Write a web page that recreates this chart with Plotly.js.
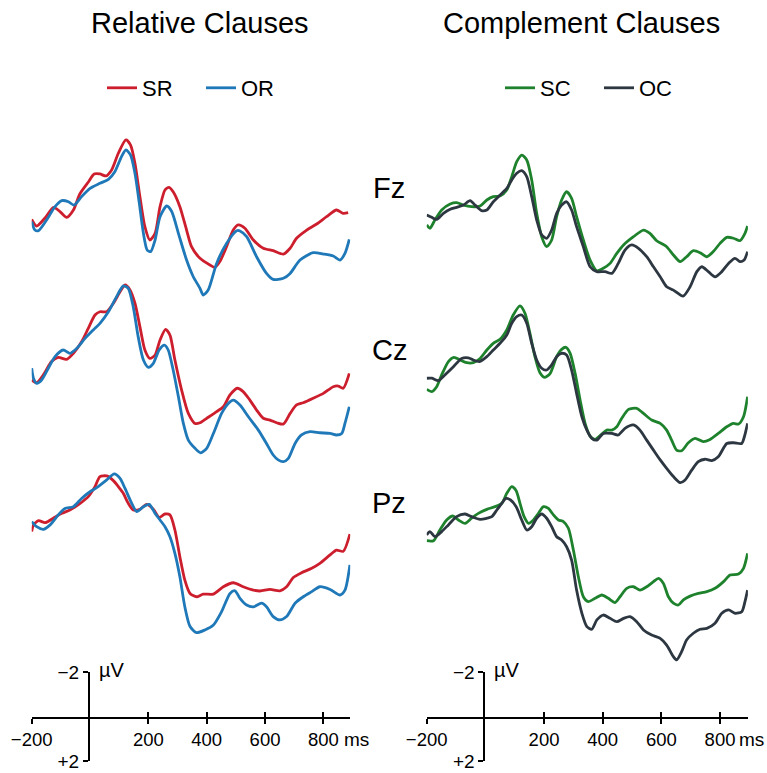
<!DOCTYPE html>
<html><head><meta charset="utf-8">
<script src="https://cdn.plot.ly/plotly-3.0.1.min.js"></script>
<style>html,body{margin:0;padding:0;background:#fff}</style>
</head><body><div id="chart" style="width:767px;height:773px"></div>
<script>
// ---------- data (time in ms, amplitude in microvolts; negative plotted up) ----------
const electrodes = ['Fz', 'Cz', 'Pz'];
const columnTitles = ['Relative Clauses', 'Complement Clauses'];
const seriesNames = ['SR', 'OR', 'SC', 'OC'];
const scaleTickVals = [-200, 200, 400, 600, 800];
const scaleTickText = ['\u2212200', '200', '400', '600', '800'];
const uvTickVals = [-2, 2];
const uvTickText = ['\u22122', '+2'];

// Relative clauses – Fz
const tFzSR = [-200,-183,-155,-125,-103,-80,-57,-35,-5,14,34,55,74,97,123,139,154,171,188,205,223,240,257,271,285,308,331,348,377,411,428,445,468,491,508,531,560,594,628,663,686,708,743,777,811,845,868,885];
const vFzSR = [0.42,0.72,0.37,-0.12,0.07,0.33,0.0,-0.72,-1.27,-1.62,-1.62,-1.53,-1.80,-2.55,-3.15,-2.92,-2.10,-0.60,0.75,1.35,1.05,-0.15,-0.90,-1.02,-0.82,-0.15,0.90,1.65,2.17,2.47,2.58,2.32,1.65,0.90,0.67,0.82,1.35,1.72,1.83,1.98,1.72,1.27,0.90,0.63,0.30,0.0,0.15,0.12];
const tFzOR = [-200,-189,-177,-149,-120,-97,-74,-55,-29,0,34,63,85,108,123,139,154,169,183,196,208,223,240,263,280,303,331,354,377,388,405,434,468,503,514,537,571,605,628,663,686,720,765,800,834,857,874,889];
const vFzOR = [0.52,0.90,0.93,0.45,-0.15,-0.42,-0.37,-0.22,-0.60,-0.97,-1.20,-1.38,-1.72,-2.40,-2.70,-2.47,-1.65,-0.30,1.05,1.80,1.87,1.35,0.30,-0.18,0.07,1.05,2.25,3.00,3.52,3.82,3.60,2.40,1.50,0.93,0.94,1.20,2.10,2.85,3.12,3.07,2.85,2.25,1.92,1.98,2.07,2.25,1.95,1.32];
// Relative clauses – Cz
const tCzSR = [-200,-183,-160,-132,-109,-80,-57,-29,-6,17,34,57,80,103,120,137,154,171,188,205,223,240,259,274,291,314,337,360,377,400,434,457,480,505,525,548,571,594,617,640,663,686,708,731,765,800,834,851,868,889];
const vCzSR = [0.90,1.02,0.67,0.07,-0.12,-0.03,-0.30,-0.82,-1.42,-2.02,-2.17,-2.17,-2.55,-3.07,-3.37,-3.15,-2.55,-1.50,-0.45,-0.07,-0.22,-0.90,-1.38,-1.12,0.0,1.35,2.40,2.85,2.82,2.62,2.32,2.10,1.57,1.27,1.42,1.80,2.25,2.62,2.70,2.82,2.88,2.40,2.02,1.92,1.72,1.50,1.20,1.17,1.27,0.60];
const tCzOR = [-200,-194,-183,-166,-143,-120,-92,-69,-46,-17,11,34,63,91,114,131,148,165,183,200,217,237,255,268,285,303,320,337,360,379,400,423,451,474,491,514,543,577,605,628,645,663,680,703,725,754,788,823,845,863,874,889];
const vCzOR = [0.37,0.82,1.05,0.90,0.37,-0.15,-0.45,-0.30,-0.52,-0.97,-1.35,-1.65,-2.17,-2.85,-3.33,-3.22,-2.40,-1.05,0.0,0.33,0.15,-0.45,-0.67,-0.45,0.45,1.65,2.85,3.60,3.97,4.17,3.97,3.30,2.40,1.95,1.80,2.02,2.55,3.15,3.75,4.27,4.49,4.57,4.42,3.75,3.37,3.22,3.27,3.30,3.37,3.30,2.85,2.10];
// Relative clauses – Pz
const tPzSR = [-200,-194,-177,-154,-126,-97,-69,-34,-6,17,34,57,80,97,114,131,148,171,194,217,237,257,274,291,308,325,343,365,388,423,457,491,525,560,583,617,651,674,697,725,760,788,823,845,868,891];
const vPzSR = [0.97,0.67,0.48,0.57,0.37,0.15,0.0,-0.30,-0.60,-1.05,-1.50,-1.53,-1.32,-1.05,-0.75,-0.30,0.0,-0.03,-0.25,-0.03,0.33,0.18,0.22,0.90,2.10,3.15,3.75,3.90,3.78,3.78,3.45,3.27,3.45,3.60,3.64,3.57,3.63,3.45,3.03,2.82,2.62,2.40,2.02,1.80,1.86,1.08];
const tPzOR = [-200,-183,-160,-137,-109,-86,-57,-29,0,28,57,83,103,120,143,160,183,203,223,240,257,274,291,308,325,343,365,394,423,451,480,497,514,537,560,588,605,628,651,674,703,731,760,788,823,857,874,891];
const vPzOR = [0.52,0.75,0.87,0.67,0.22,-0.07,-0.15,-0.52,-0.82,-1.05,-1.35,-1.62,-1.42,-0.97,-0.30,0.07,-0.15,-0.25,0.15,0.45,0.75,1.20,1.95,3.00,4.35,5.24,5.51,5.39,5.17,4.57,3.75,3.63,3.97,4.27,4.35,4.19,4.35,4.79,4.94,4.79,4.19,3.90,3.67,3.45,3.57,3.82,3.60,2.47];

// Complement clauses – Fz
const tFzSC = [-200,-189,-172,-149,-120,-98,-75,-47,-18,5,27,50,73,90,107,124,141,158,175,192,209,226,243,260,277,294,311,334,357,380,402,425,448,471,505,539,561,584,618,641,664,686,709,732,755,777,800,823,846,868,885,894];
const vFzSC = [0.67,0.82,0.45,0.0,-0.27,-0.33,-0.22,-0.15,-0.18,-0.45,-0.60,-0.63,-0.90,-1.50,-2.17,-2.47,-2.25,-1.35,0.15,1.20,1.65,1.35,0.30,-0.45,-0.82,-0.52,0.30,1.35,2.25,2.73,2.62,2.40,1.95,1.57,1.20,0.90,1.05,1.38,1.65,2.02,2.32,2.10,1.83,1.92,2.10,1.87,1.50,1.23,1.27,1.38,1.05,0.72];
const tFzOC = [-200,-183,-166,-143,-120,-98,-75,-52,-35,-13,5,27,50,73,90,107,124,141,158,175,192,209,226,243,260,277,294,311,334,357,380,408,431,453,476,499,522,550,573,596,618,641,674,698,721,738,760,783,806,829,851,868,882,894];
const vFzOC = [0.22,0.33,0.42,0.15,-0.03,-0.12,-0.22,-0.42,-0.22,0.03,0.0,-0.37,-0.67,-0.97,-1.35,-1.65,-1.77,-1.50,-0.60,0.45,1.12,1.27,0.90,0.15,-0.22,-0.37,0.0,0.75,1.65,2.55,2.77,2.77,2.85,2.40,1.80,1.57,1.72,2.10,2.55,3.00,3.45,3.60,3.87,3.45,2.77,2.55,2.77,3.00,2.77,2.40,2.17,2.32,2.25,1.87];
// Complement clauses – Cz
const tCzSC = [-200,-183,-166,-149,-126,-107,-86,-64,-41,-18,5,27,50,73,95,118,135,152,169,186,203,221,243,260,275,289,306,323,340,357,374,397,414,431,448,465,488,516,539,567,596,618,635,652,669,692,715,743,766,794,823,846,863,880,894];
const vCzSC = [1.32,1.42,1.20,0.67,0.07,-0.12,0.0,0.12,0.12,-0.07,-0.45,-0.75,-0.93,-1.35,-2.02,-2.43,-2.10,-1.20,-0.15,0.57,0.78,0.60,-0.15,-0.48,-0.57,-0.30,0.60,1.80,2.85,3.42,3.57,3.33,3.15,3.15,3.00,2.62,2.22,2.17,2.40,2.70,2.85,3.15,3.60,4.05,4.08,3.72,3.52,3.67,3.57,3.30,3.00,2.85,2.88,2.55,1.65];
const tCzOC = [-200,-183,-160,-138,-109,-81,-58,-41,-20,5,27,50,73,90,107,124,141,158,175,192,209,226,243,260,277,294,311,329,346,363,380,402,431,453,476,505,527,550,573,596,618,641,664,681,704,726,749,772,794,823,846,874,883,894];
const vCzOC = [0.82,0.82,0.93,0.67,0.30,-0.07,-0.10,0.0,0.07,-0.15,-0.45,-0.75,-1.12,-1.65,-1.95,-2.02,-1.65,-0.75,0.0,0.37,0.45,0.22,-0.15,-0.30,-0.22,0.45,1.50,2.55,3.15,3.52,3.60,3.30,3.30,3.37,3.07,2.92,3.15,3.60,4.05,4.49,4.87,5.24,5.51,5.39,4.94,4.57,4.46,4.52,4.35,3.75,3.72,3.75,3.45,2.85];
// Complement clauses – Pz
const tPzSC = [-200,-177,-155,-132,-111,-92,-69,-47,-24,5,33,56,73,90,105,118,132,147,164,181,198,215,232,249,266,283,300,317,334,351,374,397,419,442,459,482,505,527,550,573,590,607,624,641,658,675,698,726,755,783,812,834,863,880,894];
const vPzSC = [1.38,1.38,0.90,0.45,0.27,0.45,0.60,0.37,0.15,-0.03,-0.15,-0.30,-0.75,-1.05,-0.87,-0.30,0.30,0.60,0.45,0.15,-0.15,-0.07,0.22,0.45,0.52,0.82,1.80,3.00,3.90,4.12,3.97,3.82,3.97,4.16,3.90,3.52,3.45,3.60,3.45,3.22,3.07,3.30,3.90,4.19,4.27,4.04,3.87,3.75,3.67,3.52,3.22,2.92,2.88,2.62,1.95];
const tPzOC = [-200,-189,-172,-149,-126,-98,-69,-47,-18,5,22,39,56,70,86,105,124,141,158,175,192,209,226,243,260,277,294,311,329,346,363,380,402,425,448,471,493,516,539,567,596,618,641,652,669,686,709,732,755,783,806,829,851,874,885,894];
const vPzOC = [1.12,0.97,1.20,0.97,0.67,0.30,0.18,0.30,0.42,0.37,0.30,0.0,-0.30,-0.52,-0.45,-0.15,0.45,0.90,0.75,0.37,0.18,0.37,0.75,1.20,1.35,1.65,2.25,3.60,4.64,5.24,5.36,4.94,4.72,4.87,5.02,4.87,4.79,5.02,5.39,5.62,5.77,6.07,6.59,6.74,6.37,5.84,5.54,5.36,5.32,5.09,4.64,4.49,4.64,4.57,4.12,3.60];

// ---------- styling / layout helpers ----------
const W = 767, H = 773;
const fx = px => px / W;
const fy = px => 1 - px / H;
const FONT = 'Liberation Sans, Arial, Helvetica, sans-serif';
const PX_PER_UV = 22.25;
const colors = {SR: '#cd1e2d', OR: '#1f78b8', SC: '#1e822d', OC: '#2d3741'};
const rowBase = [210, 360, 510];      // pixel row of 0 µV for each electrode row
const bandUp = 115, bandDown = 165;
const yRange = [bandDown / PX_PER_UV, -bandUp / PX_PER_UV];
const colX = [{x0: 31.7, x1: 350.2, zero: 89.9, r: [-200, 892], ms: 342},
              {x0: 426.7, x1: 747.9, zero: 485.4, r: [-200, 895], ms: 737}];
const scaleZeroPx = 716.7, scaleTopPx = 672, scaleBotPx = 761;

const hidden = {visible: false, showgrid: false, zeroline: false, fixedrange: true};
const legendBase = {orientation: 'h', xanchor: 'left', yanchor: 'middle', y: fy(88),
  font: {family: FONT, size: 22, color: '#000'}, bgcolor: 'rgba(0,0,0,0)',
  itemwidth: 30, traceorder: 'normal', entrywidth: 54, entrywidthmode: 'pixels'};
const layout = {
  width: W, height: H, margin: {l: 0, r: 0, t: 0, b: 0},
  paper_bgcolor: '#fff', plot_bgcolor: 'rgba(0,0,0,0)',
  font: {family: FONT, color: '#000'},
  xaxis: Object.assign({}, hidden, {domain: [fx(colX[0].x0), fx(colX[0].x1)], range: colX[0].r, anchor: 'y'}),
  xaxis2: Object.assign({}, hidden, {domain: [fx(colX[1].x0), fx(colX[1].x1)], range: colX[1].r, anchor: 'y4'}),
  annotations: [],
  legend: Object.assign({}, legendBase, {x: fx(102)}),
  legend2: Object.assign({}, legendBase, {x: fx(500)})
};
rowBase.forEach((b, i) => {
  const dom = [fy(b + bandDown), fy(b - bandUp)];
  layout['yaxis' + (i === 0 ? '' : i + 1)] = Object.assign({}, hidden, {domain: dom, range: yRange, anchor: 'x'});
  layout['yaxis' + (i + 4)] = Object.assign({}, hidden, {domain: dom, range: yRange, anchor: 'x2'});
});

const data = [];
// scale bars built from real axes (empty traces only register the subplots)
function addScale(c, xS, xO, yB, x0, yS, yO) {
  const cx = colX[c];
  const tickBase = {ticklen: 5, tickwidth: 2, tickcolor: '#000', tickmode: 'array',
                    showgrid: false, zeroline: false, fixedrange: true};
  layout['xaxis' + xS] = Object.assign({}, tickBase, {
    domain: [fx(cx.x0), fx(cx.x1)], range: cx.r, anchor: 'y' + yB,
    showline: true, linecolor: '#000', linewidth: 2, ticks: 'outside',
    tickvals: scaleTickVals, ticktext: scaleTickText,
    tickfont: {family: FONT, size: 18.5, color: '#000'}});
  layout['xaxis' + xO] = Object.assign({}, tickBase, {
    overlaying: 'x' + xS, range: cx.r, anchor: 'y' + yB, showline: false, ticks: 'inside',
    tickvals: scaleTickVals, showticklabels: false});
  layout['yaxis' + yB] = Object.assign({}, hidden, {domain: [fy(scaleZeroPx), fy(scaleZeroPx) + 0.02], range: [0, 1], anchor: 'x' + xS});
  layout['xaxis' + x0] = Object.assign({}, hidden, {domain: [fx(cx.zero), fx(cx.x1)], range: [0, 1], anchor: 'y' + yS});
  layout['yaxis' + yS] = Object.assign({}, tickBase, {
    domain: [fy(scaleBotPx), fy(scaleTopPx)], range: [2, -2], anchor: 'x' + x0, side: 'left',
    showline: true, linecolor: '#000', linewidth: 2, ticks: 'outside',
    tickvals: uvTickVals, ticktext: uvTickText,
    tickfont: {family: FONT, size: 19, color: '#000'}});
  layout['yaxis' + yO] = Object.assign({}, tickBase, {
    overlaying: 'y' + yS, range: [2, -2], anchor: 'x' + x0, side: 'left', showline: false,
    ticks: 'inside', tickvals: uvTickVals, showticklabels: false});
  [['x' + xS, 'y' + yB], ['x' + xO, 'y' + yB], ['x' + x0, 'y' + yS], ['x' + x0, 'y' + yO]].forEach(p =>
    data.push({type: 'scatter', mode: 'lines', x: [], y: [], xaxis: p[0], yaxis: p[1], showlegend: false, hoverinfo: 'skip'}));
  layout.annotations.push(
    {text: '\u00b5V', xref: 'paper', yref: 'paper', x: fx(cx.zero + 7), y: fy(670), xanchor: 'left', yanchor: 'middle',
     showarrow: false, font: {family: FONT, size: 20, color: '#000'}},
    {text: 'ms', xref: 'paper', yref: 'paper', x: fx(cx.ms), y: fy(739), xanchor: 'left', yanchor: 'middle',
     showarrow: false, font: {family: FONT, size: 19, color: '#000'}});
}
addScale(0, 3, 4, 7, 5, 8, 9);
addScale(1, 6, 7, 10, 8, 11, 12);

// titles and electrode labels
layout.annotations.push(
  {text: columnTitles[0], xref: 'paper', yref: 'paper', x: fx(200), y: fy(23), xanchor: 'center', yanchor: 'middle',
   showarrow: false, font: {family: FONT, size: 29, color: '#000'}},
  {text: columnTitles[1], xref: 'paper', yref: 'paper', x: fx(581), y: fy(23), xanchor: 'center', yanchor: 'middle',
   showarrow: false, font: {family: FONT, size: 29, color: '#000'}});
const labelY = [188, 350, 503];
electrodes.forEach((e, i) => layout.annotations.push(
  {text: e, xref: 'paper', yref: 'paper', x: fx(389), y: fy(labelY[i]), xanchor: 'center', yanchor: 'middle',
   showarrow: false, font: {family: FONT, size: 29, color: '#000'}}));

// ---------- traces ----------
function add(t, v, xa, ya, name, legend, show) {
  data.push({type: 'scatter', mode: 'lines', x: t, y: v, xaxis: xa, yaxis: ya, name: name,
             legend: legend, showlegend: show, hoverinfo: 'skip',
             line: {color: colors[name], width: 2.8, shape: 'spline', smoothing: 0.7}});
}
add(tFzSR, vFzSR, 'x', 'y', 'SR', 'legend', true);
add(tFzOR, vFzOR, 'x', 'y', 'OR', 'legend', true);
add(tCzSR, vCzSR, 'x', 'y2', 'SR', 'legend', false);
add(tCzOR, vCzOR, 'x', 'y2', 'OR', 'legend', false);
add(tPzSR, vPzSR, 'x', 'y3', 'SR', 'legend', false);
add(tPzOR, vPzOR, 'x', 'y3', 'OR', 'legend', false);
add(tFzSC, vFzSC, 'x2', 'y4', 'SC', 'legend2', true);
add(tFzOC, vFzOC, 'x2', 'y4', 'OC', 'legend2', true);
add(tCzSC, vCzSC, 'x2', 'y5', 'SC', 'legend2', false);
add(tCzOC, vCzOC, 'x2', 'y5', 'OC', 'legend2', false);
add(tPzSC, vPzSC, 'x2', 'y6', 'SC', 'legend2', false);
add(tPzOC, vPzOC, 'x2', 'y6', 'OC', 'legend2', false);

Plotly.newPlot('chart', data, layout, {displayModeBar: false, staticPlot: true});
</script>
</body></html>
